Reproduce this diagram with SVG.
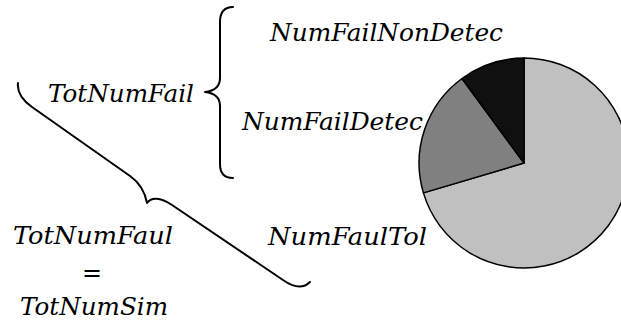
<svg xmlns="http://www.w3.org/2000/svg" width="621" height="325" viewBox="0 0 621 325">
<style>
.br{fill:none;stroke:#000;stroke-width:2;stroke-linecap:round;stroke-linejoin:round}
.sl{stroke:#000;stroke-width:1.5;stroke-linejoin:round}
</style>
<rect width="621" height="325" fill="#fff"/>
<g id="pie">
<path class="sl" fill="#c0c0c0" d="M524,163 L423.4,192.9 A105,105 0 1 0 524,58 Z"/>
<path class="sl" fill="#808080" d="M524,163 L462,78.5 A105,105 0 0 0 423.4,192.9 Z"/>
<path class="sl" fill="#101010" d="M524,163 L524,58 A105,105 0 0 0 462,78.5 Z"/>
</g>
<g id="connectors">
<path class="br" d="M233,7 C224,7 220,12 220,22 L220,78 C220,87 214,91 205,92 C214,93 220,97 220,106 L220,164 C220,173 224,178 233,178"/>
<path class="br" d="M18,83 C17,92 22,100 32,107 L130,176 C140,183 145,192 147,203 C151,197 160,197 172,205 L283,280 C293,287 303,289 310,282"/>
</g>
<g font-style="italic" font-size="24" fill="#000">
<g id="n-nonDetec"><text font-family="DejaVu Serif" x="270" y="41" textLength="233" lengthAdjust="spacingAndGlyphs">NumFailNonDetec</text></g>
<g id="n-detec"><text font-family="DejaVu Serif" x="242" y="130" textLength="181" lengthAdjust="spacingAndGlyphs">NumFailDetec</text></g>
<g id="n-totFail"><text font-family="DejaVu Serif" x="48" y="102" textLength="146" lengthAdjust="spacingAndGlyphs">TotNumFail</text></g>
<g id="n-faulTol"><text font-family="DejaVu Serif" x="268" y="245" textLength="159" lengthAdjust="spacingAndGlyphs">NumFaulTol</text></g>
<g id="n-totFaul">
<text font-family="DejaVu Serif" x="13" y="244" textLength="160" lengthAdjust="spacingAndGlyphs">TotNumFaul</text>
<text font-family="DejaVu Serif" x="82" y="281" font-style="normal" textLength="20" lengthAdjust="spacingAndGlyphs">=</text>
<text font-family="DejaVu Serif" x="20" y="315" textLength="148" lengthAdjust="spacingAndGlyphs">TotNumSim</text>
</g>
</g>
</svg>
